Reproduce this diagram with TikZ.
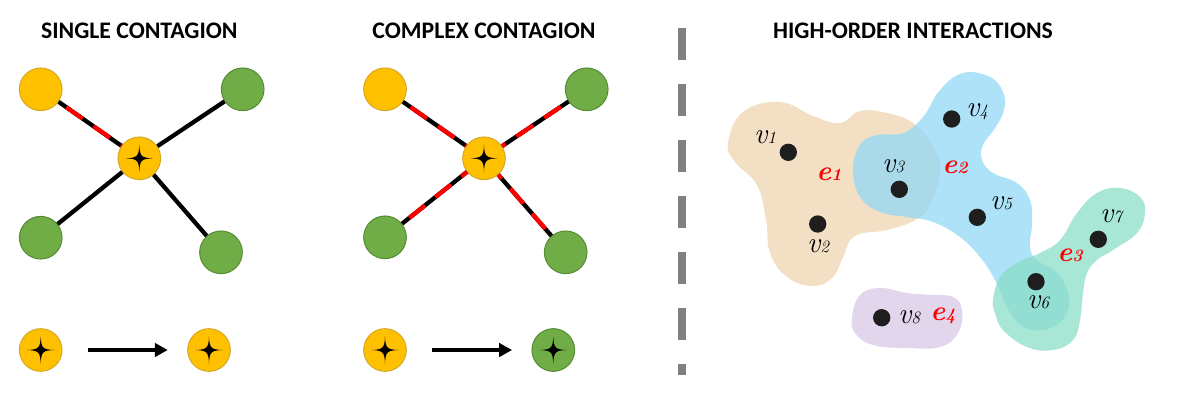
\documentclass[tikz,border=0pt]{standalone}
\usepackage{fontspec}
\newfontfamily\headfont{Carlito}
\usetikzlibrary{arrows.meta}

\definecolor{goldfill}{RGB}{255,192,0}
\definecolor{golddraw}{RGB}{214,168,40}
\definecolor{leaffill}{RGB}{112,173,71}
\definecolor{leafdraw}{RGB}{84,140,52}
\definecolor{tanblob}{RGB}{243,223,196}
\definecolor{skyblob}{RGB}{146,216,247}
\definecolor{mintblob}{RGB}{139,222,199}
\definecolor{lilacblob}{RGB}{226,214,236}

\tikzset{
  infected/.style={circle, fill=goldfill, draw=golddraw, line width=0.75pt, minimum size=32pt, inner sep=0pt},
  healthy/.style={circle, fill=leaffill, draw=leafdraw, line width=0.75pt, minimum size=32pt, inner sep=0pt},
  tie/.style={black, line width=3.2pt},
  riskytie/.style={black, line width=3.2pt, postaction={draw=red, dash pattern=on 15pt off 10pt, dash phase=18pt}},
  flowarrow/.style={line width=3pt, -{Triangle[length=9.75pt,width=10pt]}, shorten <=19pt, shorten >=14.5pt},
  sepline/.style={draw={rgb,255:red,128;green,128;blue,128}, line width=6pt, dash pattern=on 24pt off 18pt},
  heading/.style={anchor=base, inner sep=0pt, font=\headfont\bfseries\fontsize{17.8}{20}\selectfont},
  vdot/.style={circle, fill={rgb,255:red,30;green,30;blue,30}, minimum size=13pt, inner sep=0pt},
  vlabel/.style={inner sep=0pt, font=\fontsize{22}{24}\selectfont\itshape},
  elabel/.style={inner sep=0pt, text=red, font=\fontsize{21}{24}\selectfont\bfseries\itshape},
  star4/.pic={\fill[black] (0,-13.5) .. controls (0.5,-2) and (2,-0.5) .. (13.5,0) .. controls (2,0.5) and (0.5,2) .. (0,13.5) .. controls (-0.5,2) and (-2,0.5) .. (-13.5,0) .. controls (-2,-0.5) and (-0.5,-2) .. (0,-13.5) -- cycle;}
}
\newcommand{\vname}[1]{v{\fontsize{13}{13}\selectfont #1}}
\newcommand{\ename}[1]{e{\fontsize{13}{13}\selectfont #1}}

\begin{document}
\begin{tikzpicture}[x=0.75pt,y=0.75pt,yscale=-1,xscale=1]
\path[use as bounding box] (0,0) rectangle (1194,401);

% Headings
\node[heading] (titleA) at (139.3,38.3) {SINGLE CONTAGION};
\node[heading] (titleB) at (484,38.3) {COMPLEX CONTAGION};
\node[heading] (titleC) at (913,38.3) {HIGH-ORDER INTERACTIONS};

%Single contagion: star network
\node[infected] (la) at (40.7,89.3) {};
\node[healthy] (lb) at (242.7,89.3) {};
\node[infected] (hubA) at (139.3,158.3) {};
\node[healthy] (lc) at (40.7,237.7) {};
\node[healthy] (ld) at (221,252.3) {};
\draw[riskytie] (la) -- (hubA);
\draw[tie] (lb) -- (hubA);
\draw[tie] (lc) -- (hubA);
\draw[tie] (ld) -- (hubA);
\pic at (hubA) {star4};

%Complex contagion: star network
\node[infected] (ra) at (385,89.3) {};
\node[healthy] (rb) at (586.7,89.3) {};
\node[infected] (hubB) at (484,158.3) {};
\node[healthy] (rc) at (385,237.3) {};
\node[healthy] (rd) at (565.7,252.3) {};
\draw[riskytie] (ra) -- (hubB);
\draw[riskytie] (rb) -- (hubB);
\draw[riskytie] (rc) -- (hubB);
\draw[riskytie] (rd) -- (hubB);
\pic at (hubB) {star4};

%Transitions
\node[infected] (sa) at (40.7,350) {};
\node[infected] (sb) at (209,350) {};
\node[infected] (sc) at (385,350) {};
\node[healthy] (sd) at (553.3,350) {};
\foreach \s in {sa,sb,sc,sd} {\pic at (\s) {star4};}
\draw[flowarrow] (sa) -- (sb);
\draw[flowarrow] (sc) -- (sd);

%Separator
\draw[sepline] (682,28) -- (682,375);

%Hyperedges
\fill[tanblob] plot[smooth cycle, tension=0.7] coordinates {(728,143) (743,112) (780,102) (813,116) (840,123) (860,111) (887,113) (913,123) (933,146) (940,173) (930,205) (915,220) (887,230) (855,236) (843,257) (833,277) (813,286) (787,277) (770,253) (766,220) (757,185) (735,162)};
\fill[skyblob, fill opacity=0.75] plot[smooth cycle, tension=0.7] coordinates {(963,73) (990,77) (1003,92) (1004,110) (995,128) (983,145) (982,160) (993,173) (1017,183) (1030,200) (1032,223) (1030,247) (1037,260) (1057,273) (1068,293) (1067,313) (1053,327) (1033,330) (1017,322) (1005,303) (995,280) (980,257) (960,237) (933,222) (907,217) (880,212) (860,197) (853,170) (860,145) (877,135) (903,133) (923,117) (940,90)};
\fill[mintblob, fill opacity=0.75] plot[smooth cycle, tension=0.7] coordinates {(993,300) (1000,277) (1017,263) (1040,253) (1060,240) (1077,213) (1097,193) (1120,188) (1140,197) (1145,213) (1137,233) (1113,250) (1097,260) (1087,273) (1083,293) (1080,320) (1073,340) (1053,350) (1027,347) (1003,330) (995,313)};
\fill[lilacblob] plot[smooth cycle, tension=0.7] coordinates {(852,317) (860,295) (880,288) (907,293) (933,295) (953,297) (962,310) (958,333) (940,347) (907,348) (873,345) (855,333)};

%Vertices
\node[vdot] (v1) at (788.3,152.3) {};
\node[vdot] (v2) at (817.7,224) {};
\node[vdot] (v3) at (899.3,189.3) {};
\node[vdot] (v4) at (951.7,119) {};
\node[vdot] (v5) at (977.3,217.3) {};
\node[vdot] (v6) at (1036,281.7) {};
\node[vdot] (v7) at (1098.3,239.3) {};
\node[vdot] (v8) at (881.7,317.7) {};

% Text Node
\node[vlabel] (n1) at (765,137) {\vname{1}};
\node[vlabel] (n2) at (818,246) {\vname{2}};
\node[vlabel] (n3) at (893,166) {\vname{3}};
\node[vlabel] (n4) at (977,112) {\vname{4}};
\node[vlabel] (n5) at (1001,203) {\vname{5}};
\node[vlabel] (n6) at (1038,302) {\vname{6}};
\node[vlabel] (n7) at (1111,216) {\vname{7}};
\node[vlabel] (n8) at (909,317) {\vname{8}};
\node[elabel] (m1) at (829,174) {\ename{1}};
\node[elabel] (m2) at (955,167) {\ename{2}};
\node[elabel] (m3) at (1070,255) {\ename{3}};
\node[elabel] (m4) at (943,316) {\ename{4}};

\end{tikzpicture}
\end{document}
